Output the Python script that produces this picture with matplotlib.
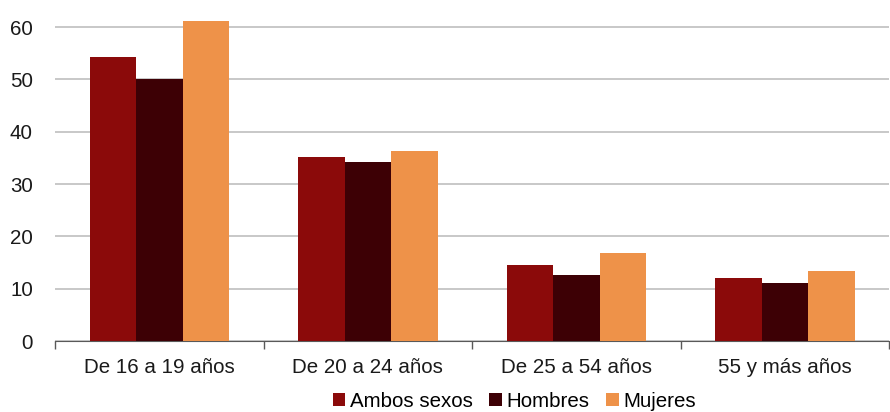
import matplotlib
matplotlib.use("Agg")
import matplotlib.pyplot as plt
import numpy as np

plt.rcParams['font.family'] = ['Liberation Sans', 'DejaVu Sans']

categories = ['De 16 a 19 años', 'De 20 a 24 años', 'De 25 a 54 años', '55 y más años']
ambos = [54.3, 35.2, 14.5, 12.0]
hombres = [50.1, 34.2, 12.6, 11.1]
mujeres = [61.2, 36.3, 16.8, 13.4]
series = ['Ambos sexos', 'Hombres', 'Mujeres']
colors = ['#8B0A0A', '#3D0005', '#EE9249']

fig = plt.figure(figsize=(8.9, 4.12), dpi=100)
ax = fig.add_axes([0.062, 0.1723, 0.937, 0.7874])

x = np.arange(len(categories))
w = 0.223
for i, (vals, name, c) in enumerate(zip([ambos, hombres, mujeres], series, colors)):
    ax.bar(x + (i - 1) * w, vals, width=w, color=c, label=name, zorder=3)

ax.set_xlim(-0.5, len(categories) - 0.5)
ax.set_ylim(0, 62)
ax.set_yticks(range(0, 61, 10))
ax.yaxis.grid(True, color='#BFBFBF', linewidth=1.2, zorder=0)
ax.set_axisbelow(True)

ax.set_xticks(x)
ax.set_xticklabels(categories, fontsize=14.8, color='#1a1a1a')
ax.tick_params(axis='x', length=0, pad=12)
ax.set_xticks(np.arange(-0.5, len(categories), 1), minor=True)
ax.tick_params(axis='x', which='minor', length=6, color='#595959', width=1)
ax.tick_params(axis='y', length=0, labelsize=14.8, labelcolor='#1a1a1a', pad=16)

for s in ['top', 'right', 'left']:
    ax.spines[s].set_visible(False)
ax.spines['bottom'].set_color('#595959')

fig.legend(loc='center', bbox_to_anchor=(0.578, 0.026), ncol=3, frameon=False,
           fontsize=14.8, handlelength=0.6, handleheight=0.6, handletextpad=0.25,
           columnspacing=0.8, borderpad=0.1)

fig.savefig('out.png', dpi=100)
